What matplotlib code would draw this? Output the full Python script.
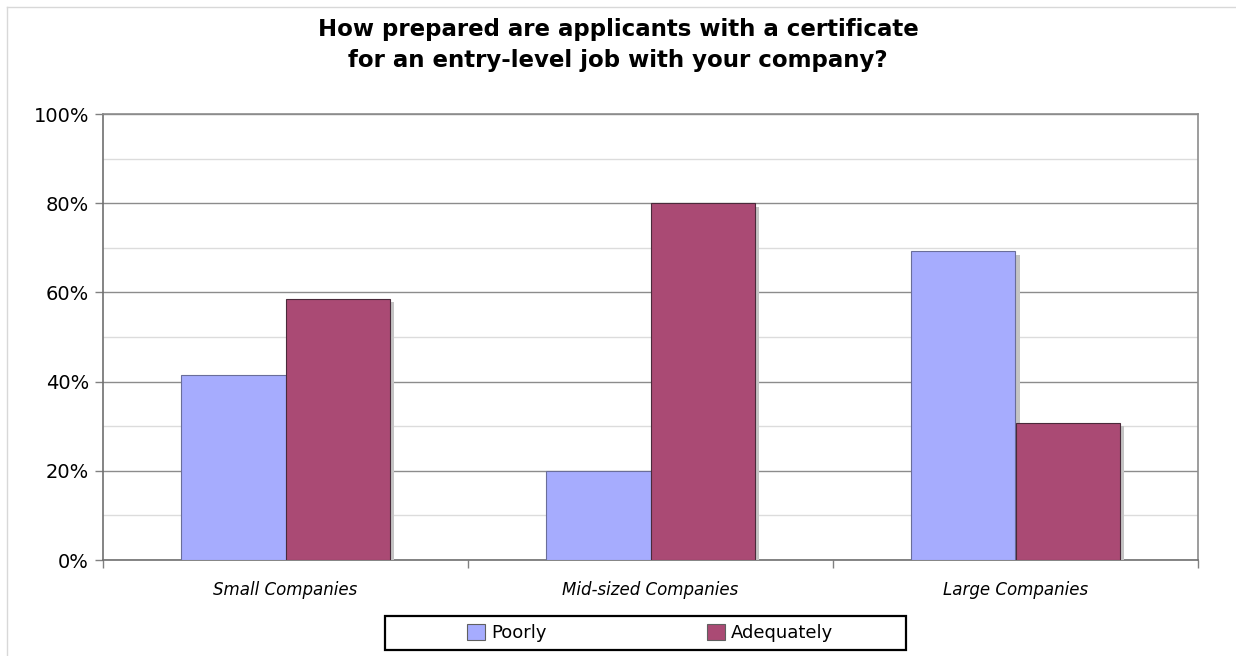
import matplotlib
matplotlib.use("Agg")
import numpy as np
import matplotlib.pyplot as plt
import matplotlib.patheffects as pe
from matplotlib.patches import Rectangle, Patch
from matplotlib.lines import Line2D
from matplotlib.ticker import MultipleLocator, FuncFormatter

categories = ["Small Companies", "Mid-sized Companies", "Large Companies"]
series_names = ["Poorly", "Adequately"]
poorly = [41.4, 20.0, 69.2]
adequately = [58.6, 80.0, 30.8]
colors = ["#a6acfe", "#aa4a74"]

plt.rcParams['font.family'] = ['DejaVu Sans']

fig = plt.figure(figsize=(12.36, 6.56), dpi=100)
W, H = 1236.0, 656.0
ax = fig.add_axes([103 / W, 1 - 560 / H, (1198 - 103) / W, (560 - 114) / H])

x = np.arange(len(categories))
bw = 0.285
shadow = [pe.SimplePatchShadow(offset=(3.2, -2.5), shadow_rgbFace="#c4c4c4", alpha=1.0), pe.Normal()]
for i, (vals, col) in enumerate(zip([poorly, adequately], colors)):
    off = (i - 0.5) * bw
    ax.bar(x + off, vals, width=bw, color=col, edgecolor="#6a6e9a" if i == 0 else "#4a2a3a",
           linewidth=0.8, zorder=3 + i, path_effects=shadow)

ax.set_xlim(-0.5, len(categories) - 0.5)
ax.set_ylim(0, 100)

# major and minor horizontal gridlines
ax.yaxis.set_major_locator(MultipleLocator(20))
ax.yaxis.set_minor_locator(MultipleLocator(10))
ax.yaxis.set_major_formatter(FuncFormatter(lambda v, p: "%d%%" % v))
ax.grid(axis="y", which="major", color="#8c8c8c", linewidth=1.0, zorder=1)
ax.grid(axis="y", which="minor", color="#dcdcdc", linewidth=1.0, zorder=1)
ax.set_axisbelow(True)

# category labels centred, ticks on the boundaries
ax.set_xticks(np.arange(len(categories) + 1) - 0.5)
ax.set_xticklabels([])
ax.set_xticks(x, minor=True)
ax.set_xticklabels(categories, minor=True, fontsize=12, style="italic")
ax.tick_params(axis="x", which="minor", length=0, pad=15)
ax.tick_params(axis="x", which="major", length=6, color="#808080", width=1)
ax.tick_params(axis="y", which="major", length=6, color="#808080", width=1, labelsize=14, pad=4)
ax.tick_params(axis="y", which="minor", length=0)

for s in ax.spines.values():
    s.set_color("#8c8c8c")
    s.set_linewidth(1.2)
ax.spines["left"].set_color("#707070")
ax.spines["bottom"].set_color("#707070")

fig.text(0.5, 1 - 45 / H, "How prepared are applicants with a certificate\nfor an entry-level job with your company?",
         ha="center", va="center", fontsize=16.5, fontweight="bold", linespacing=1.45)

# legend with its own frame
fig.patches.append(Rectangle((385 / W, 1 - 650 / H), (906 - 385) / W, (650 - 616) / H,
                             transform=fig.transFigure, facecolor="white", edgecolor="black",
                             linewidth=1.6, zorder=5))
handles = [Patch(facecolor=c, edgecolor="#606060", linewidth=0.8) for c in colors]
leg = fig.legend(handles, series_names, loc="center", bbox_to_anchor=(650 / W, 1 - 633 / H),
                 ncol=2, frameon=False, fontsize=13, handlelength=1.0, handleheight=1.0,
                 handletextpad=0.3, columnspacing=8.9)
leg.set_zorder(6)

# thin outer border on top and left
fig.add_artist(Line2D([7 / W, 1], [1 - 7 / H, 1 - 7 / H], transform=fig.transFigure, color="#d8d8d8", linewidth=1))
fig.add_artist(Line2D([7 / W, 7 / W], [0, 1 - 7 / H], transform=fig.transFigure, color="#d8d8d8", linewidth=1))

fig.savefig("out.png", dpi=100)
